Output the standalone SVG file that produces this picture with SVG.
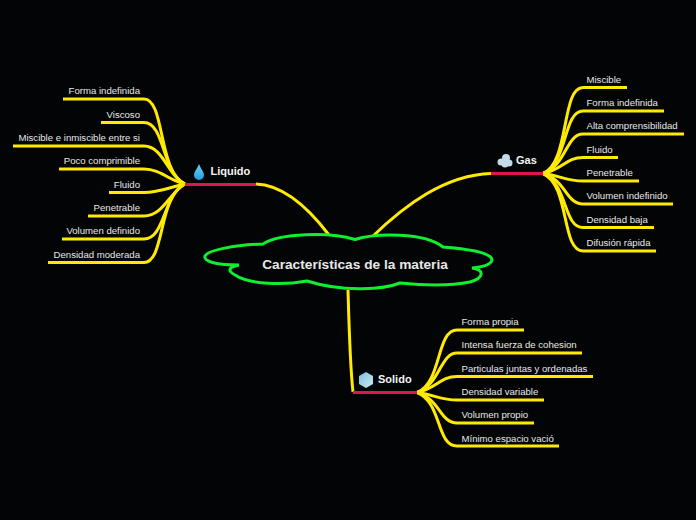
<svg xmlns="http://www.w3.org/2000/svg" width="696" height="520" viewBox="0 0 696 520">
<defs>
<linearGradient id="drop" x1="0" y1="0" x2="0" y2="1"><stop offset="0" stop-color="#6fd0f5"/><stop offset="1" stop-color="#1f9fe0"/></linearGradient>
<linearGradient id="ice" x1="0" y1="0" x2="1" y2="1"><stop offset="0" stop-color="#7cc0dc"/><stop offset="1" stop-color="#cde9f4"/></linearGradient>
</defs>
<style>
.l{fill:none;stroke:#ffea00;stroke-width:3;stroke-linecap:butt}
.m{fill:none;stroke:#ffea00;stroke-width:3;stroke-linecap:butt}
.r{fill:none;stroke:#e0144f;stroke-width:3}
text{font-family:"Liberation Sans",Arial,sans-serif;fill:#e8e8e8}
.t{font-size:9.600px}
.e{text-anchor:end}
.h{font-size:11px;font-weight:bold;fill:#f4f4f4}
</style>
<rect width="696" height="520" fill="#020406"/>
<g id="connectors">
<path class="m" d="M256 184C285 185 310 210 329 235"/>
<path class="m" d="M372 237C405 205 445 175 491 173.500"/>
<path class="m" d="M348 290C349 325 350 365 353 392"/>
<g>
<path class="l" d="M63 99H144C165 99 158 172 185 184"/>
<path class="l" d="M101 122.500H144C165 122.500 162 174 185 184"/>
<path class="l" d="M13 146H144C163 146 168 176 185 184"/>
<path class="l" d="M59 169H144C160 169 170 181 185 184"/>
<path class="l" d="M109 192.500H144C160 192.500 170 187 185 184"/>
<path class="l" d="M88 216H144C163 216 170 192 185 184"/>
<path class="l" d="M62 239H144C165 239 163 195 185 184"/>
<path class="l" d="M48 262.500H144C165 262.500 158 196 185 184"/>
<path class="l" d="M543 173.500C570 162 561 87.500 583 87.500H627"/>
<path class="l" d="M543 173.500C568 163 563 111 583 111H664"/>
<path class="l" d="M543 173.500C566 166 566 134 583 134H684"/>
<path class="l" d="M543 173.500C562 170 566 157.500 583 157.500H618"/>
<path class="l" d="M543 173.500C562 176 566 181 583 181H639"/>
<path class="l" d="M543 173.500C566 180 566 204 583 204H673"/>
<path class="l" d="M543 173.500C568 184 563 227.500 583 227.500H654"/>
<path class="l" d="M543 173.500C570 185 561 251 583 251H656"/>
<path class="l" d="M417 392.500C442 383 436 330 457 330H524"/>
<path class="l" d="M417 392.500C440 385 440 353 457 353H582"/>
<path class="l" d="M417 392.500C436 389 440 376.500 457 376.500H593"/>
<path class="l" d="M417 392.500C436 395 440 400 457 400H544"/>
<path class="l" d="M417 392.500C440 399 440 423 457 423H534"/>
<path class="l" d="M417 392.500C442 402 436 446 457 446H559"/>
</g>
<path class="r" d="M185 184.500H256M491 173.500H543M353 392.500H417"/>
</g>
<g id="root">
<path d="M263 244C280 233 330 232 355 239.500C375 233 425 232 443 247C470 249 492 253 492 260C491 265 482 267 472 268C485 270 484 278 470 282C450 286 420 285 400 283C385 289 345 293 307 281C285 285 250 285 235 275C226 270 230 267 239 265C218 265 203 262 205 256C208 250 235 245 263 244Z" fill="#020406" stroke="#10ee30" stroke-width="3"/>
<text x="355" y="269" text-anchor="middle" font-size="13.700" font-weight="bold" fill="#f4f4f4">Características de la materia</text>
</g>
<g id="liquido">
<path d="M199 164C201 169 204 172 204 175A5 5 0 0 1 194 175C194 172 197 169 199 164Z" fill="url(#drop)"/>
<text class="h" x="210.500" y="175">Liquido</text>
</g>
<g id="gas">
<g fill="#c4dcea"><circle cx="501" cy="162" r="3.500"/><circle cx="506" cy="158" r="4"/><circle cx="509" cy="163" r="3.500"/><circle cx="505" cy="164" r="3.500"/></g>
<text class="h" x="516" y="164">Gas</text>
</g>
<g id="solido">
<path d="M366 372L373 376V384L366 388L359 384V376Z" fill="url(#ice)"/>
<text class="h" x="378" y="383">Solido</text>
</g>
<g id="liquido-items">
<text class="t e" x="140" y="94">Forma indefinida</text>
<text class="t e" x="140" y="118">Viscoso</text>
<text class="t e" x="140" y="141">Miscible e inmiscible entre si</text>
<text class="t e" x="140" y="164">Poco comprimible</text>
<text class="t e" x="140" y="188">Fluido</text>
<text class="t e" x="140" y="211">Penetrable</text>
<text class="t e" x="140" y="234">Volumen definido</text>
<text class="t e" x="140" y="258">Densidad moderada</text>
</g>
<g id="gas-items">
<text class="t" x="586.500" y="83">Miscible</text>
<text class="t" x="586.500" y="106">Forma indefinida</text>
<text class="t" x="586.500" y="129">Alta comprensibilidad</text>
<text class="t" x="586.500" y="153">Fluido</text>
<text class="t" x="586.500" y="176">Penetrable</text>
<text class="t" x="586.500" y="199">Volumen indefinido</text>
<text class="t" x="586.500" y="223">Densidad baja</text>
<text class="t" x="586.500" y="246">Difusión rápida</text>
</g>
<g id="solido-items">
<text class="t" x="461.500" y="325">Forma propia</text>
<text class="t" x="461.500" y="348">Intensa fuerza de cohesion</text>
<text class="t" x="461.500" y="372">Particulas juntas y ordenadas</text>
<text class="t" x="461.500" y="395">Densidad variable</text>
<text class="t" x="461.500" y="418">Volumen propio</text>
<text class="t" x="461.500" y="442">Mínimo espacio vació</text>
</g>
</svg>
